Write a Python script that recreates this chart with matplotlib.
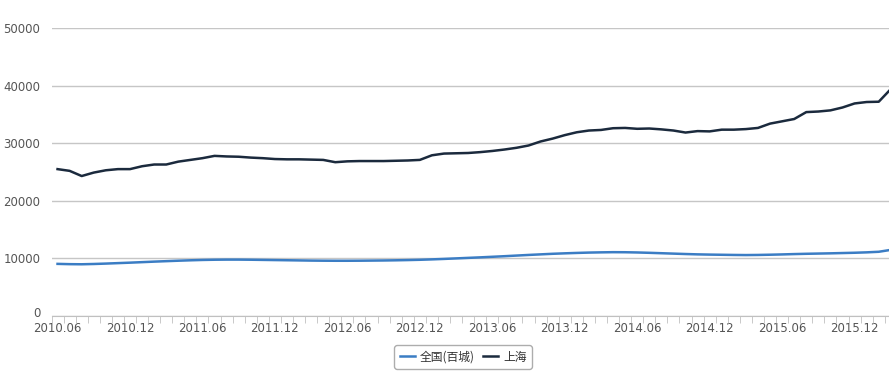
import numpy as np
import matplotlib.pyplot as plt
import matplotlib.transforms as mtransforms

months = ['2010.06', '2010.07', '2010.08', '2010.09', '2010.10', '2010.11', '2010.12',
          '2011.01', '2011.02', '2011.03', '2011.04', '2011.05', '2011.06', '2011.07', '2011.08',
          '2011.09', '2011.10', '2011.11', '2011.12',
          '2012.01', '2012.02', '2012.03', '2012.04', '2012.05', '2012.06', '2012.07', '2012.08',
          '2012.09', '2012.10', '2012.11', '2012.12',
          '2013.01', '2013.02', '2013.03', '2013.04', '2013.05', '2013.06', '2013.07', '2013.08',
          '2013.09', '2013.10', '2013.11', '2013.12',
          '2014.01', '2014.02', '2014.03', '2014.04', '2014.05', '2014.06', '2014.07', '2014.08',
          '2014.09', '2014.10', '2014.11', '2014.12',
          '2015.01', '2015.02', '2015.03', '2015.04', '2015.05', '2015.06', '2015.07', '2015.08',
          '2015.09', '2015.10', '2015.11', '2015.12',
          '2016.01', '2016.02', '2016.03']

national = [9050, 9000, 8980, 9030, 9100, 9180, 9260,
            9350, 9440, 9520, 9600, 9670, 9730, 9770, 9790, 9790, 9770, 9740, 9710,
            9680, 9650, 9620, 9600, 9590, 9590, 9600, 9620, 9640, 9670, 9710, 9760,
            9830, 9910, 10000, 10090, 10180, 10280, 10380, 10490, 10600, 10700, 10800, 10880,
            10950, 11010, 11050, 11080, 11070, 11030, 10970, 10900, 10830, 10760, 10700, 10660,
            10630, 10600, 10580, 10600, 10640, 10690, 10750, 10800, 10840, 10880, 10930, 10980,
            11050, 11150, 11480]

shanghai = [25500, 25200, 24300, 24900, 25300, 25500, 25500,
            26000, 26300, 26300, 26800, 27100, 27400, 27800, 27700, 27650, 27500, 27400, 27250,
            27200, 27200, 27150, 27100, 26700, 26850, 26900, 26900, 26900, 26950, 27000, 27100,
            27900, 28200, 28250, 28300, 28450, 28650, 28900, 29200, 29600, 30300, 30800, 31400,
            31900, 32200, 32300, 32600, 32650, 32500, 32550, 32400, 32200, 31850, 32100, 32050,
            32350, 32350, 32450, 32650, 33400, 33800, 34200, 35400, 35500, 35700, 36200, 36900,
            37150, 37200, 39400]

W, H = 889, 381
fig = plt.figure(figsize=(W / 100, H / 100), dpi=100)
ax = fig.add_axes([51.5 / W, 65 / H, (W - 51.5) / W, 288 / H])

x = np.arange(len(months))
ax.plot(x, national, color='#3b7dc4', lw=1.8, label='全国(百城)')
ax.plot(x, shanghai, color='#1b2a3d', lw=1.8, label='上海')

ax.set_ylim(0, 50000)
ax.set_xlim(-0.5, 68.85)
ax.set_yticks(range(0, 50001, 10000))
ax.grid(axis='y', color='#c6c6c6', lw=1)
ax.set_axisbelow(True)

for s in ['top', 'right', 'left']:
    ax.spines[s].set_visible(False)
ax.spines['bottom'].set_color('#c0c0c0')

ax.set_xticks(x[::6])
ax.set_xticklabels(months[::6])
ax.set_xticks(np.arange(len(months)) - 0.5, minor=True)
ax.tick_params(axis='x', which='major', length=0, pad=4.5, labelsize=8.5, labelcolor='#555555')
ax.tick_params(axis='x', which='minor', length=5, color='#c0c0c0')
ax.tick_params(axis='y', length=0, pad=8, labelsize=8.5, labelcolor='#555555')

# nudge the "0" label up a little so it doesn't sit on the first date
zero_lbl = ax.get_yticklabels()[0]
zero_lbl.set_transform(zero_lbl.get_transform() +
                       mtransforms.ScaledTranslation(0, 3 / 72, fig.dpi_scale_trans))

leg = fig.legend(loc='center', bbox_to_anchor=(463 / W, 1 - 357 / H), ncol=2,
                 prop={'family': ['Noto Sans CJK SC', 'DejaVu Sans'], 'size': 8.5},
                 frameon=True, fancybox=True, edgecolor='#999999',
                 handlelength=1.3, handletextpad=0.4, columnspacing=0.7,
                 borderpad=0.45)
for t in leg.get_texts():
    t.set_color('#333333')

fig.savefig('out.png', dpi=100)
